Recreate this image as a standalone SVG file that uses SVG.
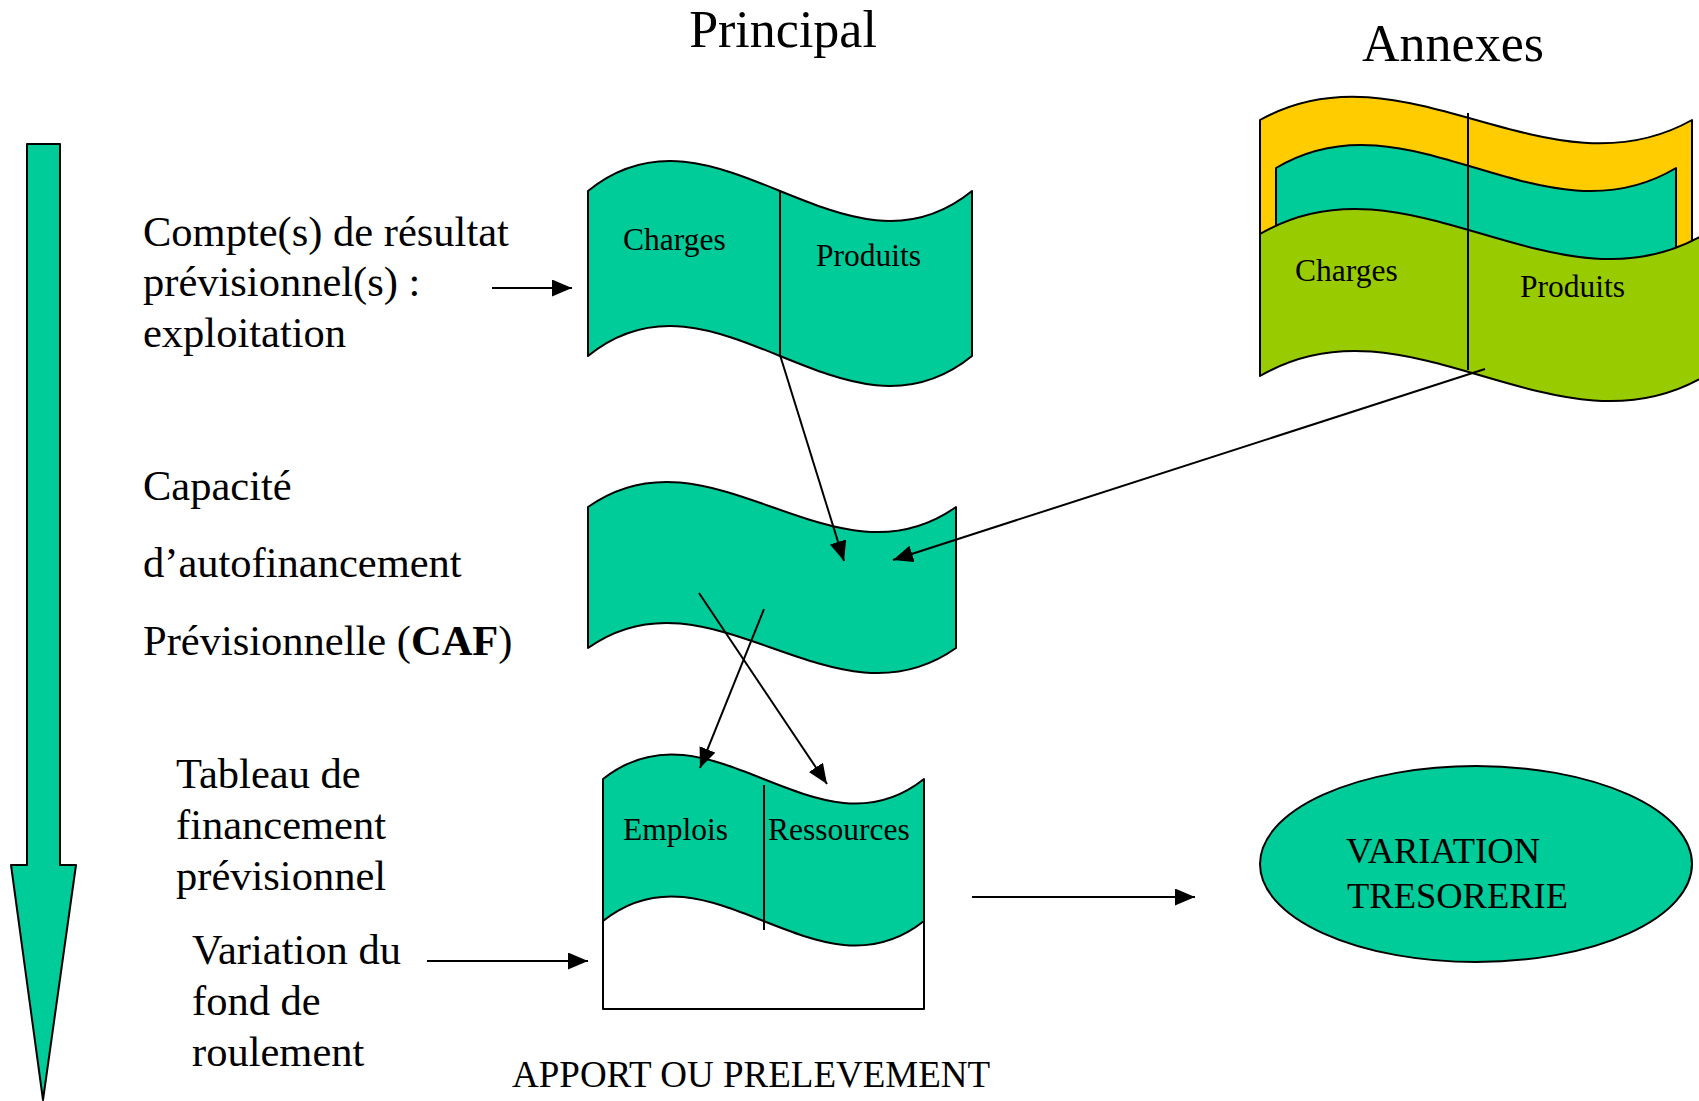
<svg xmlns="http://www.w3.org/2000/svg" width="1699" height="1101" viewBox="0 0 1699 1101">
<defs>
<style>
.t{font-family:"Liberation Serif","Times New Roman",serif;fill:#000;}
.lbl{font-size:42.5px;}
.in{font-size:31.5px;}
.ttl{font-size:52px;}
.sh{stroke:#000;stroke-width:2;stroke-linejoin:round;}
.teal{fill:#00CC99;}
.yel{fill:#FFCC00;}
.grn{fill:#99CC00;}
.ln{stroke:#000;stroke-width:2;fill:none;}
.ar{stroke:#000;stroke-width:2;fill:none;marker-end:url(#ah);}
</style>
<marker id="ah" markerUnits="userSpaceOnUse" markerWidth="21" markerHeight="18" refX="20" refY="8.5" orient="auto">
<path d="M0,0 L20,8.5 L0,17 Z" fill="#000"/>
</marker>
</defs>
<rect width="1699" height="1101" fill="#fff"/>

<g id="big-arrow">
<path class="sh teal" d="M27,144 L60,144 L60,865 L76,865 L43,1100 L11,865 L27,865 Z"/>
</g>

<g id="titles">
<text class="t ttl" x="783" y="47" text-anchor="middle">Principal</text>
<text class="t ttl" x="1453" y="61" text-anchor="middle">Annexes</text>
</g>

<g id="label-compte">
<text class="t lbl" x="143" y="246">Compte(s) de résultat</text>
<text class="t lbl" x="143" y="296">prévisionnel(s) :</text>
<text class="t lbl" x="143" y="347">exploitation</text>
</g>

<g id="label-caf">
<text class="t lbl" x="143" y="500">Capacité</text>
<text class="t lbl" x="143" y="577">d’autofinancement</text>
<text class="t lbl" x="143" y="655">Prévisionnelle (<tspan font-weight="bold">CAF</tspan>)</text>
</g>

<g id="label-tableau">
<text class="t lbl" x="176" y="788">Tableau de</text>
<text class="t lbl" x="176" y="839">financement</text>
<text class="t lbl" x="176" y="890">prévisionnel</text>
</g>

<g id="label-variation">
<text class="t lbl" x="192" y="964">Variation du</text>
<text class="t lbl" x="192" y="1015">fond de</text>
<text class="t lbl" x="192" y="1066">roulement</text>
</g>

<g id="label-apport">
<text class="t" font-size="37" x="512" y="1087">APPORT OU PRELEVEMENT</text>
</g>

<g id="flag-principal">
<path class="sh teal" d="M588,191 C716,87 844,295 972,191 L972,356 C844,460 716,252 588,356 Z"/>
<line class="ln" x1="780" y1="191" x2="780" y2="356"/>
<text class="t in" x="623" y="250">Charges</text>
<text class="t in" x="816" y="266">Produits</text>
</g>

<g id="flag-annexes">
<path class="sh yel" d="M1260,120 C1404,39 1548,201 1692,120 L1692,270 C1548,351 1404,189 1260,270 Z"/>
<path class="sh teal" d="M1276,168 C1409.3,88 1542.7,248 1676,168 L1676,268 C1542.7,348 1409.3,188 1276,268 Z"/>
<path class="sh grn" d="M1260,234 C1408.3,147 1556.7,321 1705,234 L1705,376 C1556.7,463 1408.3,289 1260,376 Z"/>
<line class="ln" x1="1468" y1="113" x2="1468" y2="370"/>
<text class="t in" x="1295" y="281">Charges</text>
<text class="t in" x="1520" y="297">Produits</text>
</g>

<g id="flag-caf">
<path class="sh teal" d="M588,507 C710.7,420 833.3,594 956,507 L956,648 C833.3,735 710.7,561 588,648 Z"/>
</g>

<g id="flag-tableau">
<rect class="sh" fill="#fff" x="603" y="830" width="321" height="179"/>
<path class="sh teal" d="M603,779 C710,694 817,864 924,779 L924,921 C817,1006 710,836 603,921 Z"/>
<line class="ln" x1="764" y1="785" x2="764" y2="930"/>
<text class="t in" x="623" y="840">Emplois</text>
<text class="t in" x="768" y="840">Ressources</text>
</g>

<g id="ellipse-tresorerie">
<ellipse class="sh teal" cx="1476" cy="864" rx="216" ry="98"/>
<text class="t" font-size="36.5" x="1346" y="863">VARIATION</text>
<text class="t" font-size="36.5" x="1347" y="908">TRESORERIE</text>
</g>

<g id="connectors">
<line class="ar" x1="492" y1="288" x2="572" y2="288"/>
<line class="ar" x1="780" y1="355" x2="844" y2="561"/>
<line class="ar" x1="1485" y1="369" x2="893" y2="560"/>
<line class="ar" x1="699" y1="593" x2="827" y2="784"/>
<line class="ar" x1="764" y1="609" x2="700" y2="768"/>
<line class="ar" x1="427" y1="961" x2="588" y2="961"/>
<line class="ar" x1="972" y1="897" x2="1195" y2="897"/>
</g>
</svg>
